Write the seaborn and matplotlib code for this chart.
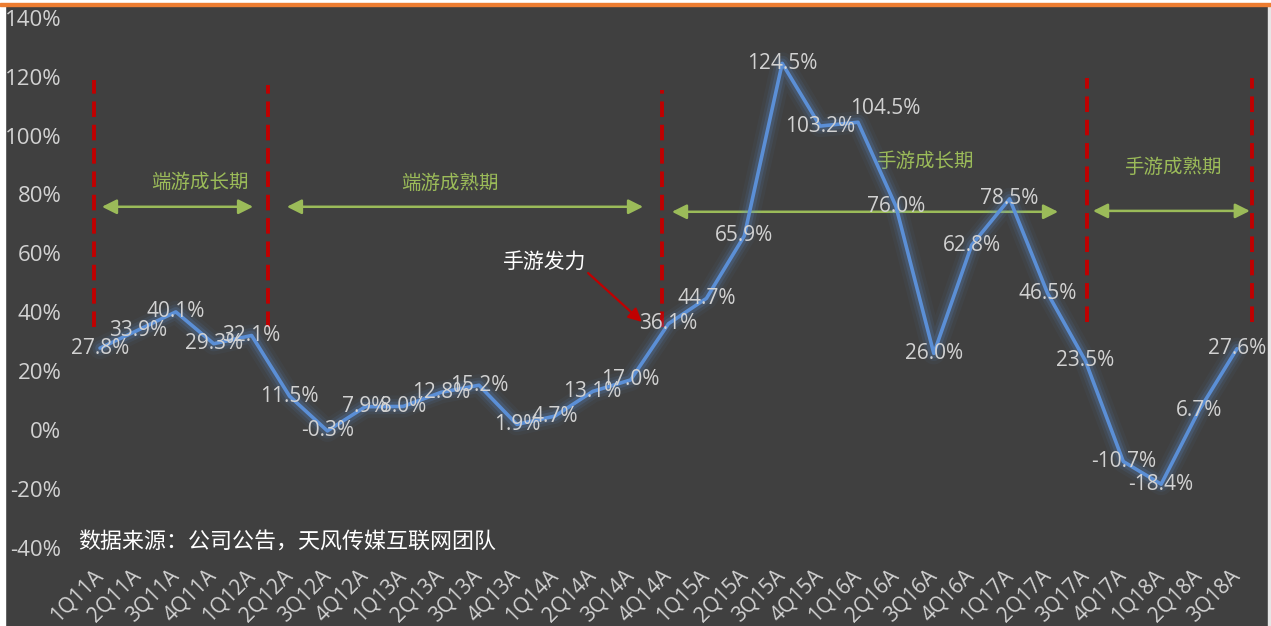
import matplotlib
matplotlib.use("Agg")
import matplotlib.pyplot as plt
import matplotlib.patheffects as pe
from matplotlib.patches import Rectangle
import pandas as pd
import seaborn as sns

# Quarterly year-on-year revenue growth (%)
quarters = ["1Q11A", "2Q11A", "3Q11A", "4Q11A", "1Q12A", "2Q12A", "3Q12A", "4Q12A",
            "1Q13A", "2Q13A", "3Q13A", "4Q13A", "1Q14A", "2Q14A", "3Q14A", "4Q14A",
            "1Q15A", "2Q15A", "3Q15A", "4Q15A", "1Q16A", "2Q16A", "3Q16A", "4Q16A",
            "1Q17A", "2Q17A", "3Q17A", "4Q17A", "1Q18A", "2Q18A", "3Q18A"]
growth = [27.8, 33.9, 40.1, 29.3, 32.1, 11.5, -0.3, 7.9, 8.0, 12.8, 15.2, 1.9,
          4.7, 13.1, 17.0, 36.1, 44.7, 65.9, 124.5, 103.2, 104.5, 76.0, 26.0,
          62.8, 78.5, 46.5, 23.5, -10.7, -18.4, 6.7, 27.6]
y_ticks = [-40, -20, 0, 20, 40, 60, 80, 100, 120, 140]

# Phase names shown between the dividers
phase_names = ["端游成长期", "端游成熟期", "手游成长期", "手游成熟期"]

BG = "#404040"
LINE = "#5b8fd6"
LABEL = "#d2d2d2"
GREEN = "#9bbb59"
RED = "#c00000"

sns.set_theme(style="dark")
plt.rcParams["font.family"] = ["Open Sans", "Noto Sans CJK SC", "DejaVu Sans"]

W, H = 1271, 626
fig = plt.figure(figsize=(W / 100, H / 100), dpi=100, facecolor=BG)

# frame: white edges and the orange rule at the top
fig.patches.append(Rectangle((0, 0), 5 / W, 1, transform=fig.transFigure, color="white", zorder=0))
fig.patches.append(Rectangle((1268 / W, 0), 3 / W, 1, transform=fig.transFigure, color="#e6e6e6", zorder=0))
fig.patches.append(Rectangle((0, 1 - 3 / H), 1, 3 / H, transform=fig.transFigure, color="white", zorder=0))
fig.patches.append(Rectangle((0, 1 - 5.5 / H), 1, 2.5 / H, transform=fig.transFigure, color="#ed7d31", zorder=0))

left_px, right_px, top_px, bottom_px = 69.7, 1267.3, 17.7, 547.8
ax = fig.add_axes([left_px / W, 1 - bottom_px / H, (right_px - left_px) / W, (bottom_px - top_px) / H])
ax.set_facecolor("none")

df = pd.DataFrame({"pos": range(len(quarters)), "growth": growth})

glow = [pe.Stroke(linewidth=16, foreground=LINE, alpha=0.05),
        pe.Stroke(linewidth=11, foreground=LINE, alpha=0.10),
        pe.Stroke(linewidth=7, foreground=LINE, alpha=0.18),
        pe.Normal()]
sns.lineplot(data=df, x="pos", y="growth", ax=ax, color=LINE, linewidth=2.6,
             path_effects=glow, zorder=4)

# value labels centred on each point (104.5% sits up and to the right)
for x, v in zip(df["pos"], df["growth"]):
    dx, dy = (27, 14) if v == 104.5 else (0, 0)
    ax.annotate(f"{v:.1f}%", (x, v), xytext=(dx * 0.72, dy * 0.72), textcoords="offset points",
                ha="center", va="center", fontsize=15, color=LABEL, zorder=5)

# red dashed phase dividers
dividers = [(-0.16, 35.0, 119.0), (4.43, 35.0, 117.0), (14.83, 35.0, 115.5),
            (26.04, 36.7, 119.6), (30.40, 36.7, 119.6)]
for x, lo, hi in dividers:
    ax.plot([x, x], [lo, hi], color=RED, linewidth=2.8, dashes=(4, 2), zorder=3)

# green double-headed arrows with phase names
spans = [(0.05, 4.04, 75.8), (4.93, 14.33, 75.8), (15.09, 25.28, 74.1), (26.2, 30.34, 74.4)]
name_pos = [(2.64, 84.1), (9.23, 83.8), (21.77, 91.0), (28.31, 89.0)]
for (x0, x1, y), name, (tx, ty) in zip(spans, phase_names, name_pos):
    ax.annotate("", xy=(x1, y), xytext=(x0, y),
                arrowprops=dict(arrowstyle="<|-|>", color=GREEN, lw=1.8,
                                mutation_scale=22, shrinkA=0, shrinkB=0), zorder=3)
    ax.text(tx, ty, name, ha="center", va="center", fontsize=14, color=GREEN, zorder=3)

# callout for the mobile-game push
ax.annotate("", xy=(14.3, 36.7), xytext=(12.88, 53.3),
            arrowprops=dict(arrowstyle="-|>", color=RED, lw=1.6, mutation_scale=20,
                            shrinkA=0, shrinkB=0), zorder=6)
ax.text(11.74, 57.1, "手游发力", ha="center", va="center", fontsize=15, color="white", zorder=6)

# source note
ax.text(-0.58, -38.4, "数据来源：公司公告，天风传媒互联网团队", ha="left", va="center",
        fontsize=15.8, color="white", style="italic", zorder=6)

ax.set_xlim(-0.8, 30.8)
ax.set_ylim(-40, 140)
ax.set_yticks(y_ticks)
ax.set_yticklabels([f"{t}%" for t in y_ticks])
ax.set_xticks(range(len(quarters)))
ax.set_xticklabels(quarters, rotation=45, ha="right", va="center", rotation_mode="anchor")
ax.tick_params(axis="x", length=0, pad=18, labelsize=15, colors=LABEL)
ax.tick_params(axis="y", length=0, pad=6, labelsize=16, colors=LABEL)
ax.set_xlabel("")
ax.set_ylabel("")
ax.grid(False)
for s in ax.spines.values():
    s.set_visible(False)

fig.savefig("out.png", dpi=100, facecolor=BG)
